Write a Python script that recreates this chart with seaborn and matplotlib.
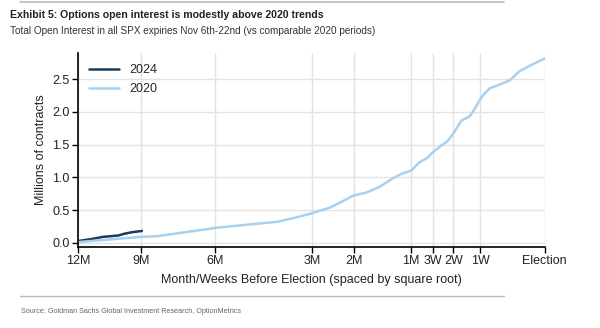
import numpy as np
import pandas as pd
import matplotlib
matplotlib.use("Agg")
import matplotlib.pyplot as plt
import seaborn as sns

# ---- data (days before election, millions of contracts) ----
days_2024 = [365, 342, 327, 305, 295, 286, 272]
oi_2024 = [0.025, 0.06, 0.09, 0.11, 0.14, 0.16, 0.18]

days_2020 = [365, 317, 273, 252, 217, 180, 146, 120, 103, 91, 77, 68, 61.5, 53, 46,
             39, 34, 30, 26.3, 23.1, 21.1, 18.5, 15.9, 14.3, 11.6, 9.5, 8.3, 6.7,
             5.1, 3.4, 2.1, 1.1, 0.3, 0]
oi_2020 = [0.01, 0.05, 0.09, 0.10, 0.16, 0.23, 0.28, 0.32, 0.39, 0.45, 0.54, 0.64,
           0.72, 0.77, 0.85, 0.98, 1.06, 1.10, 1.23, 1.30, 1.38, 1.47, 1.55, 1.65,
           1.87, 1.93, 2.04, 2.23, 2.36, 2.42, 2.48, 2.62, 2.72, 2.82]

tick_days = [365, 273, 182, 91, 61, 30, 21, 14, 7, 0]
tick_labels = ["12M", "9M", "6M", "3M", "2M", "1M", "3W", "2W", "1W", "Election"]
y_ticks = [0.0, 0.5, 1.0, 1.5, 2.0, 2.5]

df = pd.concat([
    pd.DataFrame({"days": days_2024, "oi": oi_2024, "year": "2024"}),
    pd.DataFrame({"days": days_2020, "oi": oi_2020, "year": "2020"}),
])

sns.set_theme(style="white")
plt.rcParams["font.family"] = ["Liberation Sans", "DejaVu Sans"]

fig = plt.figure(figsize=(6.0, 3.28), dpi=100)
ax = fig.add_axes([0.13, 0.247, 0.778, 0.591])

sns.lineplot(data=df, x="days", y="oi", hue="year", hue_order=["2024", "2020"],
             palette={"2024": "#1b3a5c", "2020": "#a8d0ef"}, linewidth=1.8,
             sort=False, estimator=None, ax=ax)

# square-root spacing of "days before election", election at the right
fwd = lambda d: -np.sqrt(np.clip(d, 0, None))
inv = lambda s: np.square(s)
ax.set_xscale("function", functions=(fwd, inv))
ax.set_xlim(0, 365)
if ax.transData.transform((365, 0))[0] > ax.transData.transform((0, 0))[0]:
    ax.set_xlim(365, 0)
ax.set_ylim(-0.065, 2.9)
ax.set_xticks(tick_days)
ax.set_xticklabels(tick_labels)
ax.set_yticks(y_ticks)
ax.set_yticklabels([f"{v:.1f}" for v in y_ticks])
ax.minorticks_off()

ax.grid(True, color="#e3e3e3", linewidth=1.0)
ax.set_axisbelow(True)
for s in ["top", "right"]:
    ax.spines[s].set_visible(False)
for s in ["left", "bottom"]:
    ax.spines[s].set_color("black")
    ax.spines[s].set_linewidth(1.2)
ax.tick_params(axis="both", which="major", direction="out", length=4, width=1.0,
               color="black", labelsize=9, labelcolor="#222222", pad=2,
               bottom=True, left=True)

ax.set_xlabel("Month/Weeks Before Election (spaced by square root)", fontsize=9,
              color="#222222", labelpad=5)
ax.set_ylabel("Millions of contracts", fontsize=9, color="#222222", labelpad=4)

leg = ax.legend(loc="upper left", frameon=False, fontsize=9, handlelength=2.4,
                bbox_to_anchor=(0.0, 1.0), labelspacing=0.55)
leg.set_title(None)

# header / footer
fig.add_artist(plt.Line2D([0.033, 0.84], [0.993, 0.993], color="#bbbbbb", linewidth=1.2))
fig.text(0.017, 0.955, "Exhibit 5: Options open interest is modestly above 2020 trends",
         fontsize=7.6, fontweight="bold", color="#222222", va="center")
fig.text(0.017, 0.907, "Total Open Interest in all SPX expiries Nov 6th-22nd (vs comparable 2020 periods)",
         fontsize=7.2, color="#333333", va="center")
fig.add_artist(plt.Line2D([0.033, 0.84], [0.098, 0.098], color="#bbbbbb", linewidth=1.0))
fig.text(0.035, 0.05, "Source: Goldman Sachs Global Investment Research, OptionMetrics",
         fontsize=5.2, color="#666666", va="center")

fig.savefig("out.png", dpi=100)
